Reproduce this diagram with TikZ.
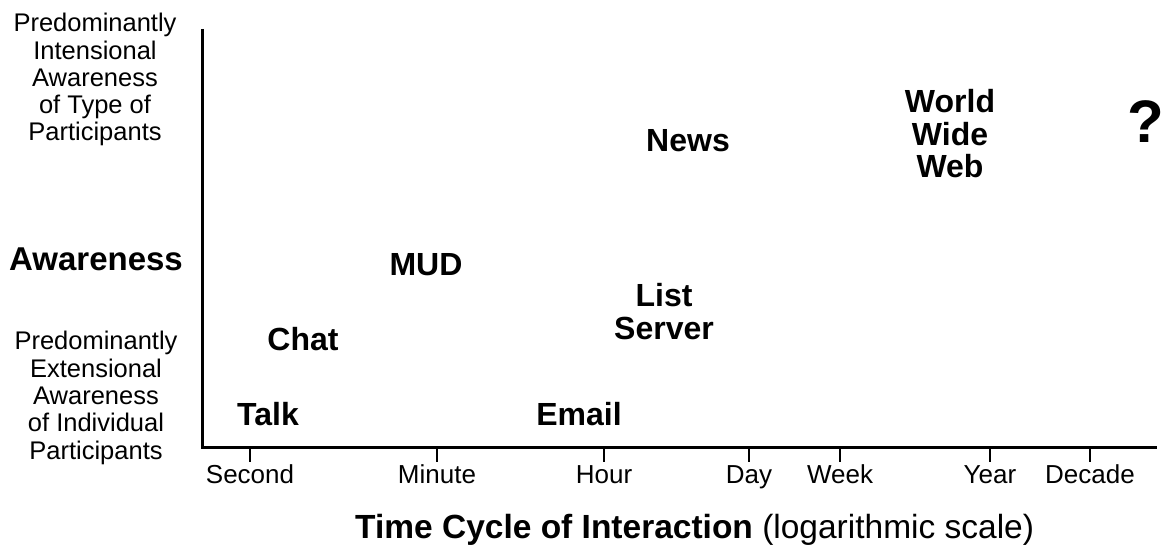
\documentclass[tikz,border=0pt]{standalone}
\usepackage{fontspec}
\setmainfont{Liberation Sans}
\newcommand{\sidefont}{\fontsize{25.5}{27.3}\selectfont}
\newcommand{\tickfont}{\fontsize{26}{28}\selectfont}
\newcommand{\mediafont}{\fontsize{32}{32.5}\selectfont\bfseries}
\begin{document}
\begin{tikzpicture}[x=1pt,y=-1pt,
  axisline/.style={line width=3pt},
  tickline/.style={line width=2.6pt},
  sidelabel/.style={font=\sidefont,align=center,anchor=base,inner sep=0pt},
  ticklabel/.style={font=\tickfont,anchor=base,inner sep=0pt},
  medium/.style={font=\mediafont,align=center,anchor=base,inner sep=0pt}]
\useasboundingbox (0,0) rectangle (1165,548);

% axes
\coordinate (top) at (202,29);
\coordinate (origin) at (202,447);
\coordinate (right) at (1157,447);
\draw[axisline] (top) -- (origin) -- (right);

% time scale ticks and labels
\foreach \name/\x/\lab in {sec/250/Second, min/437/Minute, hour/604/Hour,
    day/749/Day, week/840/Week, year/990/Year, decade/1090/Decade}{
  \coordinate (\name-a) at (\x,447);
  \coordinate (\name-b) at (\x,462);
  \draw[tickline] (\name-a) -- (\name-b);
  \node[ticklabel] (\name) at (\x,483) {\lab};
}

% vertical axis descriptions (anchored at the baseline of the last line)
\node[sidelabel] (intensional) at (95,141)
  {Predominantly\\Intensional\\Awareness\\of Type of\\Participants};
\node[sidelabel,font=\fontsize{33}{36}\selectfont\bfseries] (awareness) at (96,270) {Awareness};
\node[sidelabel] (extensional) at (96,459)
  {Predominantly\\Extensional\\Awareness\\of Individual\\Participants};

% communication media
\node[medium] (talk) at (268,425) {Talk};
\node[medium] (email) at (579,425) {Email};
\node[medium] (chat) at (303,350) {Chat};
\node[medium] (mud) at (426,276) {MUD};
\node[medium] (list) at (664,339) {List\\Server};
\node[medium] (news) at (688,152) {News};
\node[medium] (www) at (950,178) {World\\Wide\\Web};
\node[medium,font=\fontsize{60}{60}\selectfont\bfseries] (unknown) at (1146,143) {?};

% horizontal axis title
\node[anchor=base west,inner sep=0pt,font=\fontsize{33.5}{36}\selectfont] (title) at (355,538)
  {\textbf{Time Cycle of Interaction} (logarithmic scale)};
\end{tikzpicture}
\end{document}
